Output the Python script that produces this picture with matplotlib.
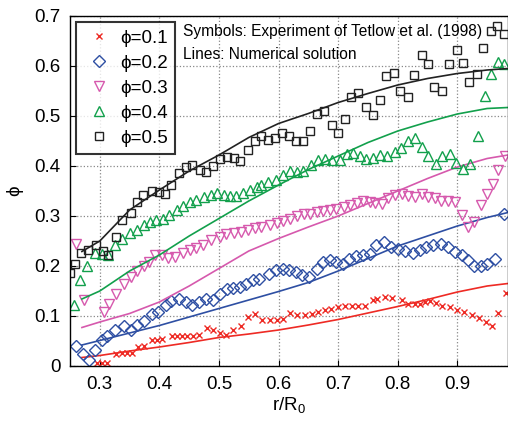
import numpy as np
import matplotlib.pyplot as plt

plt.rcParams['font.family'] = ['Liberation Sans', 'DejaVu Sans']
plt.rcParams['mathtext.fontset'] = 'custom'
plt.rcParams['mathtext.rm'] = 'Liberation Sans'

# experiment (symbols)
x1 = [0.295, 0.303, 0.312, 0.327, 0.337, 0.345, 0.354, 0.364, 0.374, 0.387, 0.396, 0.404,
      0.421, 0.429, 0.438, 0.446, 0.456, 0.466, 0.480, 0.490, 0.501, 0.511, 0.523, 0.537,
      0.548, 0.560, 0.572, 0.585, 0.597, 0.607, 0.619, 0.631, 0.644, 0.656, 0.666, 0.678,
      0.688, 0.699, 0.711, 0.723, 0.733, 0.745, 0.758, 0.766, 0.778, 0.790, 0.807, 0.817,
      0.829, 0.837, 0.845, 0.854, 0.864, 0.875, 0.887, 0.899, 0.911, 0.924, 0.936, 0.948,
      0.958, 0.969, 0.981]
y1 = [0.007, 0.007, 0.007, 0.024, 0.027, 0.027, 0.027, 0.039, 0.040, 0.053, 0.053, 0.054,
      0.061, 0.061, 0.061, 0.061, 0.061, 0.062, 0.076, 0.072, 0.066, 0.063, 0.073, 0.080,
      0.099, 0.105, 0.093, 0.092, 0.093, 0.095, 0.107, 0.102, 0.102, 0.105, 0.108, 0.113,
      0.115, 0.119, 0.120, 0.120, 0.120, 0.121, 0.133, 0.135, 0.138, 0.137, 0.133, 0.125,
      0.124, 0.125, 0.129, 0.131, 0.126, 0.121, 0.118, 0.113, 0.109, 0.103, 0.096, 0.089,
      0.080, 0.107, 0.146]

x2 = [0.260, 0.271, 0.282, 0.292, 0.303, 0.312, 0.325, 0.340, 0.352, 0.362, 0.374, 0.387,
      0.398, 0.411, 0.420, 0.433, 0.444, 0.454, 0.467, 0.478, 0.490, 0.501, 0.513, 0.524,
      0.535, 0.546, 0.557, 0.567, 0.584, 0.595, 0.608, 0.618, 0.629, 0.640, 0.651, 0.664,
      0.675, 0.686, 0.696, 0.708, 0.719, 0.730, 0.742, 0.753, 0.764, 0.777, 0.789, 0.801,
      0.812, 0.826, 0.837, 0.848, 0.859, 0.872, 0.884, 0.896, 0.907, 0.918, 0.928, 0.939,
      0.950, 0.964, 0.978]
y2 = [0.041, 0.025, 0.012, 0.032, 0.052, 0.060, 0.073, 0.080, 0.073, 0.082, 0.091, 0.105,
      0.109, 0.122, 0.131, 0.135, 0.129, 0.122, 0.129, 0.135, 0.132, 0.144, 0.155, 0.157,
      0.159, 0.165, 0.172, 0.175, 0.185, 0.192, 0.195, 0.193, 0.189, 0.182, 0.179, 0.195,
      0.209, 0.212, 0.209, 0.204, 0.215, 0.220, 0.222, 0.225, 0.242, 0.249, 0.239, 0.235,
      0.231, 0.227, 0.232, 0.239, 0.242, 0.245, 0.239, 0.229, 0.222, 0.212, 0.200, 0.200,
      0.205, 0.215, 0.305]

x3 = [0.260, 0.273, 0.307, 0.316, 0.328, 0.340, 0.352, 0.363, 0.374, 0.383, 0.392, 0.404,
      0.415, 0.426, 0.439, 0.451, 0.462, 0.473, 0.487, 0.501, 0.512, 0.526, 0.537, 0.548,
      0.560, 0.571, 0.586, 0.597, 0.608, 0.619, 0.631, 0.642, 0.652, 0.664, 0.675, 0.686,
      0.697, 0.709, 0.720, 0.731, 0.742, 0.753, 0.762, 0.773, 0.784, 0.795, 0.807, 0.817,
      0.829, 0.840, 0.851, 0.862, 0.873, 0.884, 0.896, 0.907, 0.918, 0.928, 0.939, 0.950,
      0.960, 0.969, 0.980]
y3 = [0.245, 0.132, 0.109, 0.125, 0.145, 0.164, 0.179, 0.191, 0.200, 0.209, 0.222, 0.222,
      0.217, 0.219, 0.227, 0.232, 0.237, 0.243, 0.252, 0.258, 0.264, 0.266, 0.269, 0.272,
      0.277, 0.278, 0.283, 0.287, 0.290, 0.295, 0.300, 0.304, 0.305, 0.309, 0.311, 0.313,
      0.315, 0.319, 0.322, 0.327, 0.331, 0.329, 0.327, 0.325, 0.337, 0.342, 0.344, 0.340,
      0.339, 0.345, 0.339, 0.336, 0.331, 0.331, 0.329, 0.302, 0.279, 0.289, 0.322, 0.345,
      0.364, 0.393, 0.420]

x4 = [0.256, 0.266, 0.279, 0.292, 0.303, 0.314, 0.325, 0.338, 0.350, 0.362, 0.374, 0.384,
      0.395, 0.406, 0.416, 0.429, 0.440, 0.451, 0.462, 0.475, 0.486, 0.497, 0.508, 0.518,
      0.529, 0.540, 0.552, 0.563, 0.571, 0.582, 0.596, 0.608, 0.619, 0.631, 0.641, 0.655,
      0.666, 0.678, 0.689, 0.703, 0.714, 0.725, 0.736, 0.747, 0.758, 0.770, 0.782, 0.795,
      0.806, 0.817, 0.829, 0.840, 0.851, 0.864, 0.875, 0.887, 0.898, 0.910, 0.922, 0.935,
      0.946, 0.957, 0.968, 0.979]
y4 = [0.122, 0.172, 0.200, 0.227, 0.225, 0.222, 0.242, 0.255, 0.267, 0.272, 0.282, 0.289,
      0.293, 0.295, 0.302, 0.312, 0.320, 0.329, 0.333, 0.338, 0.343, 0.347, 0.343, 0.340,
      0.341, 0.346, 0.353, 0.358, 0.362, 0.368, 0.372, 0.382, 0.390, 0.389, 0.391, 0.402,
      0.413, 0.415, 0.412, 0.412, 0.424, 0.427, 0.420, 0.415, 0.417, 0.422, 0.420, 0.429,
      0.437, 0.450, 0.456, 0.439, 0.420, 0.405, 0.420, 0.425, 0.406, 0.394, 0.405, 0.460,
      0.540, 0.585, 0.609, 0.604]

x5 = [0.250, 0.258, 0.269, 0.280, 0.293, 0.305, 0.314, 0.327, 0.338, 0.352, 0.362, 0.373,
      0.388, 0.399, 0.409, 0.420, 0.433, 0.444, 0.455, 0.468, 0.479, 0.490, 0.501, 0.513,
      0.525, 0.536, 0.549, 0.560, 0.571, 0.582, 0.594, 0.605, 0.618, 0.630, 0.641, 0.653,
      0.664, 0.677, 0.689, 0.700, 0.712, 0.722, 0.734, 0.747, 0.759, 0.770, 0.781, 0.793,
      0.804, 0.817, 0.827, 0.840, 0.851, 0.861, 0.874, 0.886, 0.899, 0.910, 0.920, 0.933,
      0.943, 0.956, 0.967, 0.979]
y5 = [0.187, 0.205, 0.226, 0.232, 0.242, 0.231, 0.223, 0.259, 0.292, 0.307, 0.329, 0.342,
      0.351, 0.348, 0.345, 0.362, 0.387, 0.398, 0.403, 0.392, 0.389, 0.401, 0.415, 0.419,
      0.417, 0.410, 0.432, 0.450, 0.460, 0.453, 0.457, 0.466, 0.460, 0.450, 0.451, 0.470,
      0.504, 0.510, 0.483, 0.467, 0.495, 0.539, 0.547, 0.519, 0.502, 0.533, 0.580, 0.587,
      0.550, 0.539, 0.583, 0.622, 0.604, 0.559, 0.551, 0.604, 0.633, 0.607, 0.569, 0.584,
      0.637, 0.671, 0.680, 0.665]

# numerical solution (lines)
xs = [0.27, 0.30, 0.35, 0.40, 0.45, 0.50, 0.55, 0.60, 0.65, 0.70, 0.75, 0.80, 0.85, 0.90, 0.95, 0.985]
line1 = [0.017, 0.021, 0.030, 0.038, 0.047, 0.057, 0.064, 0.072, 0.082, 0.093, 0.106, 0.119, 0.133, 0.148, 0.160, 0.165]
line2 = [0.042, 0.051, 0.066, 0.081, 0.098, 0.115, 0.132, 0.149, 0.167, 0.190, 0.215, 0.240, 0.260, 0.280, 0.297, 0.307]
line3 = [0.077, 0.088, 0.105, 0.128, 0.160, 0.195, 0.230, 0.255, 0.278, 0.300, 0.325, 0.350, 0.375, 0.398, 0.415, 0.422]
line4 = [0.134, 0.150, 0.190, 0.222, 0.260, 0.295, 0.330, 0.362, 0.393, 0.420, 0.447, 0.470, 0.488, 0.504, 0.515, 0.517]
line5 = [0.229, 0.250, 0.312, 0.352, 0.390, 0.422, 0.457, 0.485, 0.505, 0.527, 0.545, 0.562, 0.575, 0.585, 0.592, 0.595]

labels = ['0.1', '0.2', '0.3', '0.4', '0.5']
colors = ['#ee2a24', '#2e4fa3', '#d659ad', '#12a04c', '#222222']
markers = ['x', 'D', 'v', '^', 's']
msizes = [4.5, 6, 7, 7, 6]

fig = plt.figure(figsize=(5.08, 4.24), dpi=100)
ax = fig.add_axes([70/508, 1 - 366/424, 438/508, 350/424])

exp_x = [x1, x2, x3, x4, x5]
exp_y = [y1, y2, y3, y4, y5]
lines = [line1, line2, line3, line4, line5]

for i in range(5):
    ax.plot(exp_x[i], exp_y[i], linestyle='none', marker=markers[i], ms=msizes[i],
            mfc='none', mec=colors[i], mew=1.0, label='\u03d5=' + labels[i])
    ax.plot(xs, lines[i], color=colors[i], lw=1.2)

ax.set_xlim(0.25, 0.985)
ax.set_ylim(0, 0.7)
ax.set_xticks([0.3, 0.4, 0.5, 0.6, 0.7, 0.8, 0.9])
ax.set_yticks([0, 0.1, 0.2, 0.3, 0.4, 0.5, 0.6, 0.7])
ax.set_yticklabels(['0', '0.1', '0.2', '0.3', '0.4', '0.5', '0.6', '0.7'])
ax.tick_params(direction='in', labelsize=13.5, length=4, pad=7, top=False, right=False)
ax.grid(True, linestyle=':', color='#888888', lw=0.9)
for s in ax.spines.values():
    s.set_linewidth(1.0)

ax.set_xlabel(r'r/R$_0$', fontsize=13.5, labelpad=2)
ax.set_ylabel('\u03d5', fontsize=13.5, labelpad=8)

leg = ax.legend(loc='upper left', bbox_to_anchor=(0.014, 0.982), prop={'size': 13.5},
                frameon=True, fancybox=False, edgecolor='black', handlelength=1.6,
                handletextpad=0.35, borderpad=0.4, labelspacing=0.42, borderaxespad=0.0)
leg.get_frame().set_linewidth(1.5)

ax.text(0.257, 0.957, 'Symbols: Experiment of Tetlow et al. (1998)', transform=ax.transAxes,
        fontsize=11.2, va='center', ha='left')
ax.text(0.257, 0.89, 'Lines: Numerical solution', transform=ax.transAxes,
        fontsize=11.2, va='center', ha='left')

fig.savefig('out.png', dpi=100)
